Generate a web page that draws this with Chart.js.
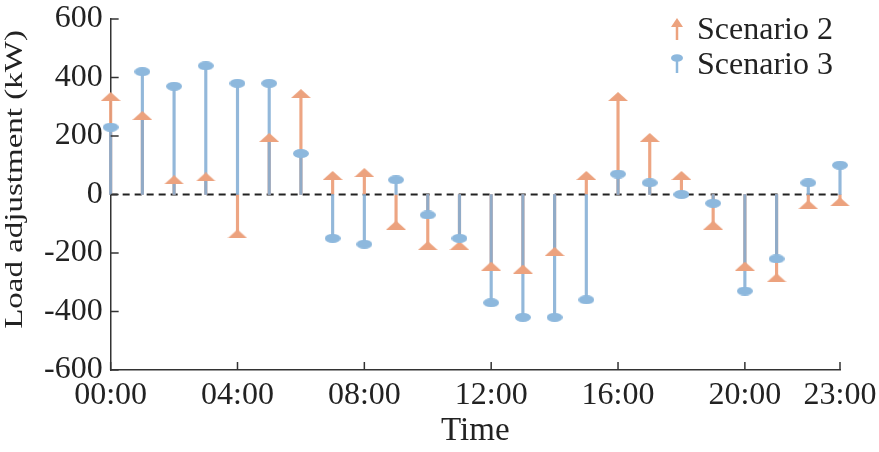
<!DOCTYPE html>
<html><head><meta charset="utf-8">
<script src="https://cdn.jsdelivr.net/npm/chart.js@4.4.1/dist/chart.umd.min.js"></script>
<style>html,body{margin:0;padding:0;background:#fff;}#wrap{width:879px;height:452px;}</style>
</head><body><div id="wrap"><canvas id="c" width="879" height="452"></canvas></div>
<script>
const hours = [0,1,2,3,4,5,6,7,8,9,10,11,12,13,14,15,16,17,18,19,20,21,22,23];
const tickHours = [0,4,8,12,16,20,23];
const tickLabels = ['00:00','04:00','08:00','12:00','16:00','20:00','23:00'];
const yTicks = [-600,-400,-200,0,200,400,600];
const scenario2 = [335,270,50,60,-135,195,345,65,75,-105,-175,-175,-245,-255,-195,65,335,195,65,-105,-245,-285,-35,-25];
const scenario3 = [230,420,370,440,380,380,140,-150,-170,50,-70,-150,-370,-420,-420,-360,70,40,0,-30,-330,-220,40,100];
const seriesNames = ['Scenario 2','Scenario 3'];

const ORANGE = 'rgb(236,162,126)';
const BLUE = 'rgb(141,184,221)';
const FONT = "'Liberation Serif', 'Times New Roman', serif";
const TEXT = '#222';

function triCanvas(w,h,color){
  const c=document.createElement('canvas');c.width=w;c.height=h;
  const g=c.getContext('2d');g.fillStyle=color;g.beginPath();
  g.moveTo(0,h);g.lineTo(w/2,0);g.lineTo(w,h);g.closePath();g.fill();return c;
}
function ellCanvas(w,h,color){
  const c=document.createElement('canvas');c.width=w;c.height=h;
  const g=c.getContext('2d');g.fillStyle=color;g.beginPath();
  g.ellipse(w/2,h/2,w/2,h/2,0,0,Math.PI*2);g.fill();return c;
}
const triStyle = triCanvas(20,9,ORANGE);
const ellStyle = ellCanvas(16,9,BLUE);

const zeroLine = {
  id:'zeroLine',
  beforeDatasetsDraw(chart){
    const {ctx, chartArea:a, scales:{y}} = chart;
    const py = y.getPixelForValue(0);
    ctx.save();ctx.strokeStyle='#222';ctx.lineWidth=1.8;ctx.setLineDash([7,5]);
    ctx.beginPath();ctx.moveTo(a.left,py);ctx.lineTo(a.right,py);ctx.stroke();ctx.restore();
  }
};
const inwardTicks = {
  id:'inwardTicks',
  afterDraw(chart){
    const {ctx, chartArea:a, scales:{x,y}} = chart;
    ctx.save();ctx.strokeStyle='#333';ctx.lineWidth=1.5;
    x.ticks.forEach(t=>{const px=x.getPixelForValue(t.value);ctx.beginPath();ctx.moveTo(px,a.bottom);ctx.lineTo(px,a.bottom-8);ctx.stroke();});
    y.ticks.forEach(t=>{const py=y.getPixelForValue(t.value);ctx.beginPath();ctx.moveTo(a.left,py);ctx.lineTo(a.left+8,py);ctx.stroke();});
    ctx.restore();
  }
};
const customLegend = {
  id:'customLegend',
  afterDraw(chart){
    const {ctx, chartArea:a} = chart;
    const tx = a.right - 143, ix = a.right - 163;
    ctx.save();
    ctx.font = '32px ' + FONT; ctx.fillStyle = TEXT; ctx.textBaseline='alphabetic'; ctx.textAlign='left';
    ctx.strokeStyle=ORANGE; ctx.lineWidth=2.5;
    ctx.beginPath();ctx.moveTo(ix,40);ctx.lineTo(ix,25);ctx.stroke();
    ctx.fillStyle=ORANGE;ctx.beginPath();ctx.moveTo(ix-6,27);ctx.lineTo(ix,18);ctx.lineTo(ix+6,27);ctx.closePath();ctx.fill();
    ctx.strokeStyle=BLUE;ctx.beginPath();ctx.moveTo(ix,58);ctx.lineTo(ix,73);ctx.stroke();
    ctx.fillStyle=BLUE;ctx.beginPath();ctx.ellipse(ix,58,6,3.8,0,0,Math.PI*2);ctx.fill();
    ctx.fillStyle=TEXT;
    ctx.fillText(chart.data.datasets[0].label, tx, 39);
    ctx.fillText(chart.data.datasets[1].label, tx, 74);
    ctx.restore();
  }
};
const yTitle = {
  id:'yTitle',
  afterDraw(chart){
    const {ctx, chartArea:a} = chart;
    ctx.save();
    ctx.translate(22, (a.top+a.bottom)/2 - 15);
    ctx.rotate(-Math.PI/2);
    ctx.scale(1, 0.78);
    ctx.font = '33px ' + FONT; ctx.fillStyle = TEXT; ctx.textAlign='center'; ctx.textBaseline='alphabetic';
    ctx.fillText('Load adjustment (kW)', 0, 0);
    ctx.restore();
  }
};

new Chart(document.getElementById('c'), {
  type:'bar',
  data:{
    datasets:[
      {type:'scatter', label:seriesNames[0], data:hours.map((h,i)=>({x:h,y:scenario2[i]})), pointStyle:triStyle, pointRadius:10, showLine:false, order:1, clip:false, backgroundColor:ORANGE, borderColor:ORANGE},
      {type:'scatter', label:seriesNames[1], data:hours.map((h,i)=>({x:h,y:scenario3[i]})), pointStyle:ellStyle, pointRadius:8, showLine:false, order:0, clip:false, backgroundColor:BLUE, borderColor:BLUE},
      {type:'bar', label:seriesNames[0]+' stem', data:hours.map((h,i)=>({x:h,y:scenario2[i]})), backgroundColor:'rgba(236,160,124,0.95)', barThickness:2.5, grouped:false, order:3, clip:false},
      {type:'bar', label:seriesNames[1]+' stem', data:hours.map((h,i)=>({x:h,y:scenario3[i]})), backgroundColor:'rgba(128,172,212,0.85)', barThickness:2.5, grouped:false, order:2, clip:false}
    ]
  },
  options:{
    responsive:false, animation:false, devicePixelRatio:1,
    layout:{padding:{left:36, top:0, right:0, bottom:0}},
    plugins:{legend:{display:false}, tooltip:{enabled:false}},
    scales:{
      x:{type:'linear', min:0, max:23, offset:false,
        grid:{display:false, drawTicks:false, offset:false},
        border:{display:true, color:'#333', width:1.5},
        afterBuildTicks:(s)=>{s.ticks = tickHours.map(v=>({value:v}));},
        afterFit:(s)=>{s.paddingRight = 39;},
        ticks:{autoSkip:false, maxRotation:0, padding:10, color:TEXT, font:{family:FONT, size:32, lineHeight:1},
          callback:(v,i)=>tickLabels[i]},
        title:{display:true, text:'Time', color:TEXT, font:{family:FONT, size:33, lineHeight:'19px'}, padding:{top:0, bottom:11}}
      },
      y:{min:-600, max:600,
        grid:{display:false, drawTicks:false},
        border:{display:true, color:'#333', width:1.5},
        afterBuildTicks:(s)=>{s.ticks = yTicks.map(v=>({value:v}));},
        afterFit:(s)=>{s.paddingTop = 19;},
        ticks:{padding:8, color:TEXT, font:{family:FONT, size:32, lineHeight:1}, callback:(v)=>String(v)}
      }
    }
  },
  plugins:[zeroLine, inwardTicks, customLegend, yTitle]
});
</script></body></html>
